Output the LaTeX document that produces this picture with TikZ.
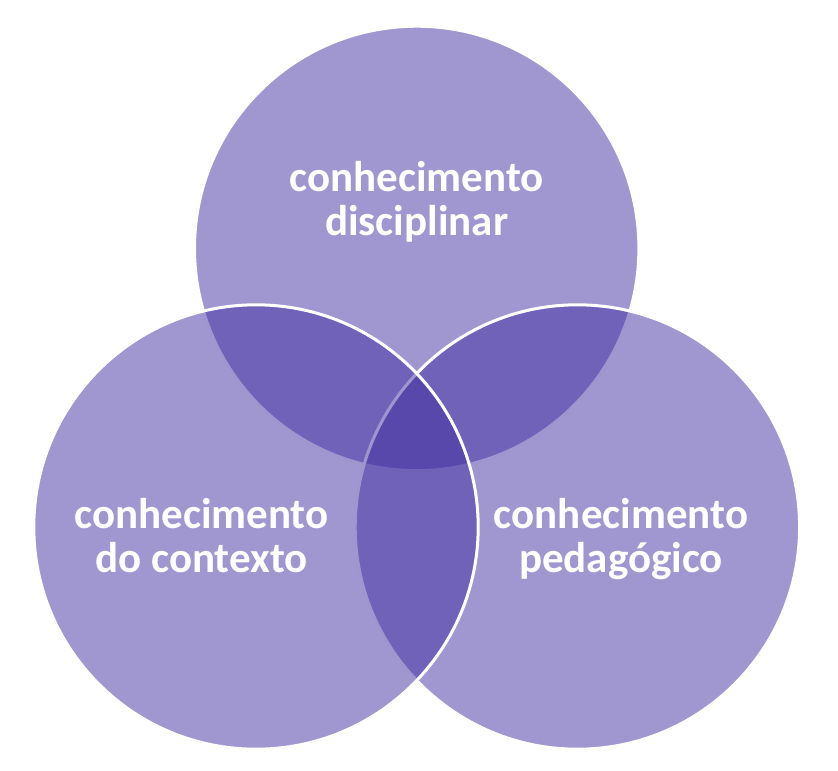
\documentclass[tikz,border=0pt]{standalone}
\usepackage{fontspec}
\setmainfont{Carlito}
\usetikzlibrary{positioning}

\definecolor{vennfill}{RGB}{65,47,161}

\tikzset{
    venn/.style={fill=vennfill, fill opacity=0.5, draw=white, line width=3pt},
    lbl/.style={text=white, font=\bfseries\fontsize{43}{44}\selectfont, align=center, anchor=base, inner sep=0pt}
}

\begin{document}
\begin{tikzpicture}[x=1pt,y=-1pt]
    \useasboundingbox (0,0) rectangle (838,771);

    % Centres of the three circles:
    \coordinate (disc) at (416.7,248.4);
    \coordinate (ped)  at (577.4,527);
    \coordinate (cont) at (256,527);

    % The circles: top first, then right, then left on top of them
    \begin{scope}
    \draw [venn] (disc) circle (222.2);
    \draw [venn] (ped)  circle (222.2);
    \draw [venn] (cont) circle (222.2);
    \end{scope}

    % Labels (anchored at the baseline of the second line):
    \node [lbl] (discl) at (416.7,235) {conhecimento\\disciplinar};
    \node [lbl] (pedl)  at (621,572)   {conhecimento\\pedagógico};
    \node [lbl] (contl) at (201.5,572) {conhecimento\\do contexto};
\end{tikzpicture}
\end{document}
